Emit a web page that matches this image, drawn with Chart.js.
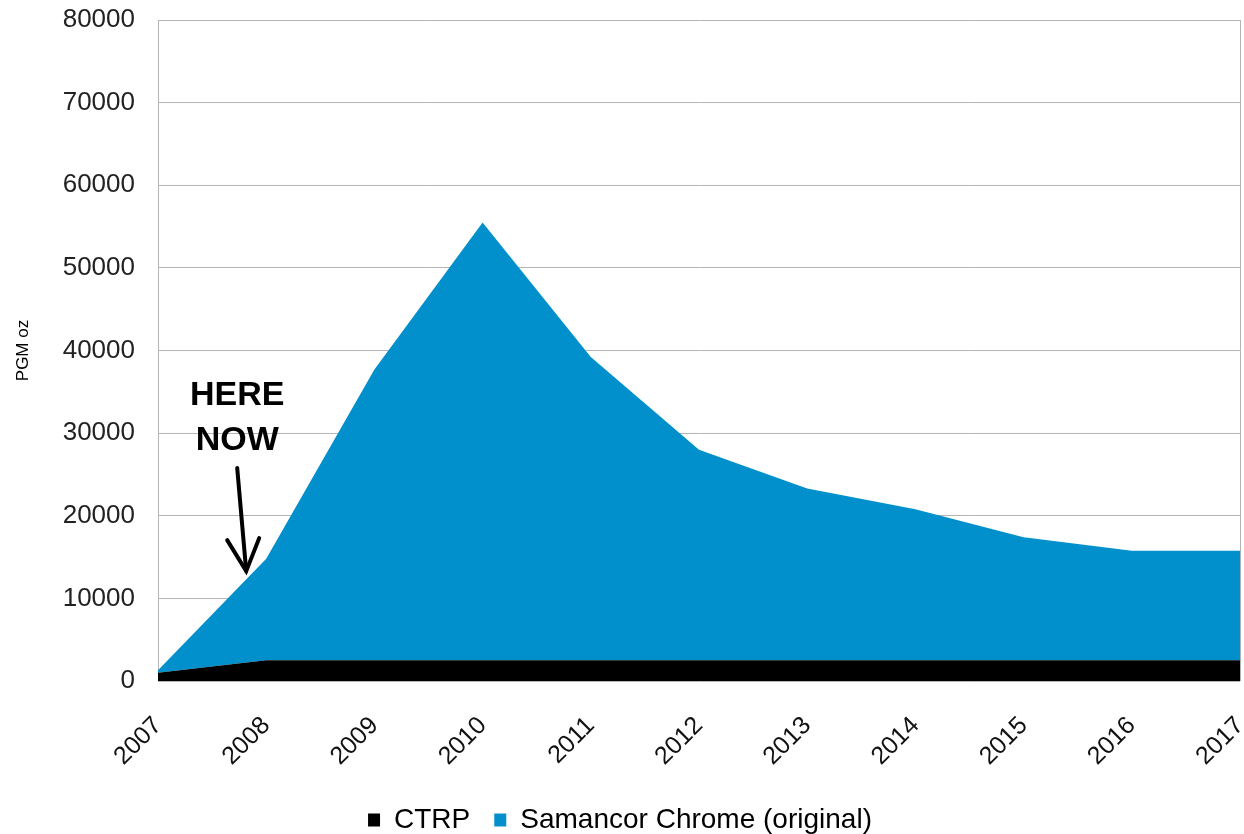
<!DOCTYPE html>
<html lang="en">
<head>
    <meta charset="UTF-8">
    <title>PGM oz - CTRP / Samancor Chrome</title>
    <script src="https://cdn.jsdelivr.net/npm/chart.js@4.4.1/dist/chart.umd.min.js"></script>
    <style>
      html, body { margin: 0; padding: 0; background: #fff; }
    </style>
</head>
<body>
 <canvas id="myChart" width="1244" height="834"></canvas>
 <script>
    // years on the x axis
    const years = ['2007','2008','2009','2010','2011','2012','2013','2014','2015','2016','2017'];
    // CTRP (bottom, black)
    const ctrp = [1000, 2500, 2500, 2500, 2500, 2500, 2500, 2500, 2500, 2500, 2500];
    // Samancor Chrome (original), stacked on top of CTRP
    const samancor = [300, 12300, 35200, 53000, 36700, 25500, 20800, 18300, 14900, 13250, 13250];
    const yTicks = [0, 10000, 20000, 30000, 40000, 50000, 60000, 70000, 80000];

    const gridGrey = '#b4b4b4';
    const fontFam = '"Liberation Sans", Arial, sans-serif';

    // HERE NOW label + arrow, placed relative to the 2008 point
    const hereNow = {
      id: 'hereNow',
      afterDatasetsDraw(chart) {
        const {ctx, scales: {x, y}} = chart;
        const px = x.getPixelForValue(1);
        const tipX = px - 20, tipY = y.getPixelForValue(13300);
        const tx = px - 29;
        ctx.save();
        ctx.fillStyle = '#000';
        ctx.font = 'bold 34px ' + fontFam;
        ctx.textAlign = 'center';
        ctx.textBaseline = 'alphabetic';
        ctx.fillText('HERE', tx, 405);
        ctx.fillText('NOW', tx, 450);
        ctx.strokeStyle = '#000';
        ctx.lineWidth = 4;
        ctx.lineCap = 'round';
        ctx.beginPath();
        ctx.moveTo(tx, 468);
        ctx.lineTo(tipX, tipY);
        ctx.stroke();
        ctx.beginPath();
        ctx.moveTo(tipX - 19, tipY - 31);
        ctx.lineTo(tipX, tipY);
        ctx.lineTo(tipX + 13, tipY - 33);
        ctx.stroke();
        ctx.restore();
      }
    };

    const ctx = document.getElementById('myChart').getContext('2d');
    const myChart = new Chart(ctx, {
      type: 'line',
      data: {
        labels: years,
        datasets: [
          {
            label: 'CTRP',
            data: ctrp,
            fill: 'origin',
            backgroundColor: '#000000',
            borderColor: '#000000',
            borderWidth: 0,
            pointRadius: 0,
            tension: 0
          },
          {
            label: 'Samancor Chrome (original)',
            data: samancor,
            fill: '-1',
            backgroundColor: '#0290cd',
            borderColor: '#0290cd',
            borderWidth: 0,
            pointRadius: 0,
            tension: 0
          }
        ]
      },
      options: {
        responsive: false,
        animation: false,
        layout: { padding: { left: 0, right: 4, top: 20, bottom: -10 } },
        plugins: {
          legend: {
            position: 'bottom',
            labels: {
              color: '#000',
              font: { family: fontFam, size: 28 },
              boxWidth: 12,
              boxHeight: 13,
              padding: 24
            }
          },
          tooltip: { enabled: false }
        },
        scales: {
          x: {
            offset: false,
            grid: {
              drawTicks: false,
              color: c => (c.index === 0 || c.index === years.length - 1) ? gridGrey : 'transparent'
            },
            border: { display: false },
            ticks: {
              color: '#111',
              font: { family: fontFam, size: 25 },
              maxRotation: 45,
              minRotation: 45,
              padding: 30
            },
            afterFit(scale) {
              scale.height = 101;
              scale.paddingLeft = 0;
              scale.paddingRight = 0;
            }
          },
          y: {
            stacked: true,
            min: 0,
            max: 80000,
            afterBuildTicks(scale) { scale.ticks = yTicks.map(v => ({value: v})); },
            grid: { drawTicks: false, color: gridGrey },
            border: { color: gridGrey },
            ticks: {
              color: '#222',
              font: { family: fontFam, size: 26 },
              padding: 23,
              callback: v => String(v)
            },
            title: {
              display: true,
              text: 'PGM oz',
              color: '#000',
              font: { family: fontFam, size: 17 },
              padding: { top: 13, bottom: 0 }
            },
            afterFit(scale) {
              scale.width = 158;
              scale.paddingTop = 0;
              scale.paddingBottom = 0;
            }
          }
        }
      },
      plugins: [hereNow]
    });
 </script>
</body>
</html>
